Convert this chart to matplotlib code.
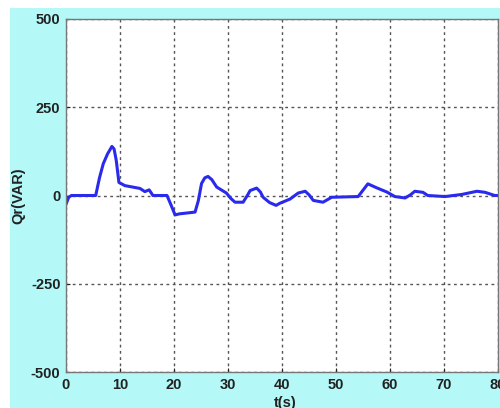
import matplotlib
matplotlib.use("Agg")
import matplotlib.pyplot as plt
from matplotlib.patches import Rectangle

plt.rcParams["axes.unicode_minus"] = False

# Data
t_s = [0, 0.5, 1.0, 5.5, 6.2, 6.9, 7.7, 8.5, 8.9, 9.3, 9.8, 10.9, 13.7, 14.6, 15.4,
       16.1, 18.7, 19.4, 20.2, 21.0, 23.9, 24.5, 25.1, 25.7, 26.3, 27.0, 27.9,
       29.7, 30.5, 31.3, 32.8, 33.5, 34.1, 35.3, 36.0, 36.5, 37.7, 38.9, 39.6,
       41.5, 43.0, 44.3, 45.0, 45.8, 47.6, 49.2, 54.1, 55.0, 55.9, 57.5, 59.4,
       60.9, 62.8, 63.8, 64.6, 66.1, 67.0, 70.2, 73.3, 76.1, 77.6, 79.4, 80.0]
q_var = [-25, -5, 0, 0, 50, 90, 118, 139, 132, 100, 37, 28, 20, 11, 16,
         0, 0, -25, -55, -52, -47, -15, 34, 50, 54, 45, 24,
         7, -8, -19, -19, -2, 14, 21, 10, -5, -20, -28, -22,
         -10, 7, 12, 2, -14, -19, -5, -3, 15, 33, 22, 10,
         -3, -7, 2, 12, 9, 0, -3, 3, 12, 9, 0, 0]

x_ticks = [0, 10, 20, 30, 40, 50, 60, 70, 80]
y_ticks = [-500, -250, 0, 250, 500]

fig = plt.figure(figsize=(5.0, 4.08), dpi=100)
fig.patch.set_facecolor("#b4f8f8")
# white margins at top and left
fig.patches.append(Rectangle((0, 400 / 408), 1, 8 / 408, transform=fig.transFigure,
                             facecolor="white", edgecolor="none", zorder=-5))
fig.patches.append(Rectangle((0, 0), 10 / 500, 1, transform=fig.transFigure,
                             facecolor="white", edgecolor="none", zorder=-5))

ax = fig.add_axes([66 / 500, 1 - 372 / 408, 432 / 500, 353 / 408])
ax.set_zorder(2)
ax.set_facecolor("white")
ax.plot(t_s, q_var, color="#2a2aee", linewidth=2.2, solid_joinstyle="round")

ax.set_xlim(0, 80)
ax.set_ylim(-500, 500)
ax.set_xticks(x_ticks)
ax.set_yticks(y_ticks)
ax.grid(True, color="#555555", linestyle=(0, (2, 2.5)), linewidth=1.0)
ax.tick_params(direction="in", length=3, pad=4, colors="#222222", labelsize=10.5)
for lab in ax.get_xticklabels() + ax.get_yticklabels():
    lab.set_fontfamily("Liberation Sans")
    lab.set_fontweight("bold")
for sp in ax.spines.values():
    sp.set_color("#777777")
    sp.set_linewidth(1.0)

ax.set_xlabel("t(s)", fontfamily="Liberation Sans", fontweight="bold",
              fontsize=10.5, color="#222222")
ax.set_ylabel("Qr(VAR)", fontfamily="Liberation Sans", fontweight="bold",
              fontsize=10.5, color="#222222")
ax.xaxis.set_label_coords(0.507, -0.088)
ax.yaxis.set_label_coords(-0.111, 0.5)
ax.xaxis.label.set_va("center")
ax.yaxis.label.set_va("center")

fig.savefig("out.png", dpi=100)
